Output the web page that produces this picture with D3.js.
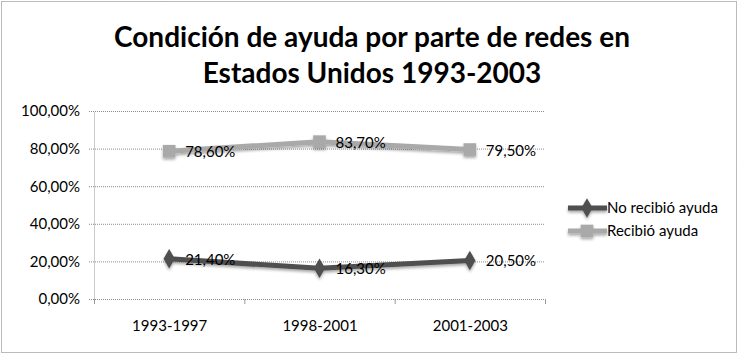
<!DOCTYPE html>
<html><head><meta charset="utf-8">
<script src="https://cdn.jsdelivr.net/npm/d3@7"></script>
<style>body{margin:0;background:#fff}svg{display:block}</style>
</head><body>
<svg id="c" width="739" height="356"></svg>
<script>
const categories = ["1993-1997", "1998-2001", "2001-2003"];
const noRecibio = [21.4, 16.3, 20.5];
const recibio = [78.6, 83.7, 79.5];
const yTicks = [0, 20, 40, 60, 80, 100];
const seriesNames = ["No recibió ayuda", "Recibió ayuda"];
const titleLines = ["Condición de ayuda por parte de redes en", "Estados Unidos 1993-2003"];

const svg = d3.select("#c");
const font = "Lato, 'Open Sans', sans-serif";
const fmt = v => d3.format(".2f")(v).replace(".", ",") + "%";

// outer border
svg.append("rect").attr("x", 1.5).attr("y", 1.5).attr("width", 735).attr("height", 351)
  .attr("fill", "#fff").attr("stroke", "#777").attr("stroke-dasharray", "1,1");

const defs = svg.append("defs");
const f = defs.append("filter").attr("id", "sh").attr("x", "-50%").attr("y", "-50%").attr("width", "200%").attr("height", "200%");
f.append("feGaussianBlur").attr("in", "SourceAlpha").attr("stdDeviation", 1.5).attr("result", "b");
f.append("feOffset").attr("in", "b").attr("dx", 0).attr("dy", 2).attr("result", "o");
f.append("feComponentTransfer").attr("in", "o").attr("result", "o2").append("feFuncA").attr("type", "linear").attr("slope", 0.35);
const m = f.append("feMerge"); m.append("feMergeNode").attr("in", "o2"); m.append("feMergeNode").attr("in", "SourceGraphic");

svg.selectAll("text.title").data(titleLines).enter().append("text")
  .attr("x", 372).attr("y", (d, i) => 47 + i * 36)
  .attr("text-anchor", "middle").attr("font-family", font).attr("font-weight", "bold")
  .attr("font-size", 28).attr("fill", "#000").text(d => d);

const x0 = 94, x1 = 545, yTop = 111, yBot = 299;
const x = d3.scalePoint().domain(categories).range([x0, x1]).padding(0.5);
const y = d3.scaleLinear().domain([0, 100]).range([yBot, yTop]);

// gridlines
svg.append("g").selectAll("line").data(yTicks).enter().append("line")
  .attr("x1", x0 - 5).attr("x2", x1).attr("y1", d => y(d) + 0.5).attr("y2", d => y(d) + 0.5)
  .attr("stroke", "#8c8c8c").attr("stroke-dasharray", "1,1");

// y axis
const ya = svg.append("g").attr("transform", `translate(${x0},0)`)
  .call(d3.axisLeft(y).tickValues(yTicks).tickSize(0).tickPadding(14).tickFormat(fmt));
ya.select(".domain").attr("stroke", "#9a9a9a").attr("stroke-dasharray", "1,1");
ya.selectAll("text").attr("font-family", font).attr("font-size", 15).attr("fill", "#000");

// x axis
const xa = svg.append("g").attr("transform", `translate(0,${yBot})`)
  .call(d3.axisBottom(x).tickSize(0).tickPadding(21));
xa.select(".domain").remove();
xa.selectAll("text").attr("font-family", font).attr("font-size", 15).attr("fill", "#000");
const bounds = [x0, x0 + (x1 - x0) / 3, x0 + 2 * (x1 - x0) / 3, x1];
xa.selectAll("line.b").data(bounds).enter().append("line").attr("class", "b")
  .attr("x1", d => d + 0.5).attr("x2", d => d + 0.5).attr("y1", 0).attr("y2", 5)
  .attr("stroke", "#9a9a9a");

const line = d3.line().x((d, i) => x(categories[i])).y(d => y(d));
const series = [
  {name: seriesNames[0], vals: noRecibio, color: "#4f4f4f", shape: d3.symbolDiamond, size: 110},
  {name: seriesNames[1], vals: recibio, color: "#a9a9a9", shape: d3.symbolSquare, size: 160}
];

series.forEach(s => {
  const g = svg.append("g").attr("filter", "url(#sh)");
  g.append("path").attr("d", line(s.vals)).attr("fill", "none").attr("stroke", s.color).attr("stroke-width", 5).attr("stroke-linejoin", "round");
  g.selectAll("path.pt").data(s.vals).enter().append("path").attr("class", "pt")
    .attr("d", d3.symbol().type(s.shape).size(s.size))
    .attr("transform", (d, i) => `translate(${x(categories[i])},${y(d)})`)
    .attr("fill", s.color);
});
series.forEach(s => {
  svg.append("g").selectAll("text").data(s.vals).enter().append("text")
    .attr("x", (d, i) => x(categories[i]) + 16).attr("y", d => y(d) + 6)
    .attr("font-family", font).attr("font-size", 15).attr("fill", "#000").text(fmt);
});

// legend
const leg = svg.append("g");
series.forEach((s, i) => {
  const ly = 208 + i * 23;
  const g = leg.append("g").attr("filter", "url(#sh)");
  g.append("line").attr("x1", 568).attr("x2", 607).attr("y1", ly).attr("y2", ly).attr("stroke", s.color).attr("stroke-width", 5);
  g.append("path").attr("d", d3.symbol().type(s.shape).size(s.size)).attr("transform", `translate(587,${ly})`).attr("fill", s.color);
  leg.append("text").attr("x", 607).attr("y", ly + 5).attr("font-family", font).attr("font-size", 15).attr("fill", "#000").text(s.name);
});
</script>
</body></html>
